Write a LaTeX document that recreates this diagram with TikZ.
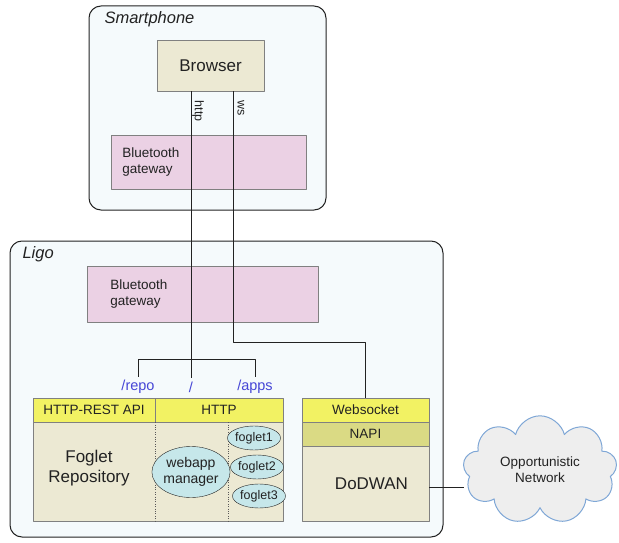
\documentclass[tikz,border=0pt]{standalone}
\usepackage{fontspec}
\setmainfont{Liberation Sans}
\usetikzlibrary{shapes.geometric,shapes.symbols}
\definecolor{outerbg}{HTML}{F5FAFC}
\definecolor{beige}{HTML}{ECE9D3}
\definecolor{btpink}{HTML}{EBD1E4}
\definecolor{hdryellow}{HTML}{F2F263}
\definecolor{napiolive}{HTML}{DADA84}
\definecolor{fogcyan}{HTML}{C6E7EA}
\definecolor{pathblue}{HTML}{4646D6}
\definecolor{cloudline}{HTML}{7FA7D6}
\definecolor{cloudfill}{HTML}{EEEEEE}
\definecolor{ink}{HTML}{222222}
\tikzset{
  outer/.style={draw=ink,fill=outerbg,rounded corners=12pt,line width=1pt},
  plain/.style={draw=gray,minimum width=#1,inner sep=0pt},
  btbox/.style={draw=gray,fill=btpink,inner sep=0pt},
  hdr/.style={draw=gray,fill=hdryellow,minimum height=24pt,inner sep=0pt},
  foglet/.style={ellipse,draw=ink,fill=fogcyan,minimum width=44pt,minimum height=24pt,inner sep=0pt,font=\fontsize{12.5}{14}\selectfont},
  path label/.style={text=pathblue,font=\fontsize{14.5}{16}\selectfont},
  big/.style={font=\fontsize{17}{19.5}\selectfont,align=center}
}
\begin{document}
\begin{tikzpicture}[x=1pt,y=-1pt,line join=round,text=ink,font=\fontsize{13.5}{16}\selectfont]
\useasboundingbox (0,0) rectangle (619,543);
% smartphone side
\node[outer,minimum width=237pt,minimum height=204pt] (phone) at (207.5,108) {};
\node[anchor=west,font=\fontsize{16.5}{19}\selectfont\itshape] (phonelbl) at (101,19) {Smartphone};
\node[plain=107pt,fill=beige,minimum height=51pt,font=\fontsize{17}{19}\selectfont] (browser) at (210.5,65.5) {Browser};
\node[btbox,minimum width=195pt,minimum height=54pt] (btphone) at (208.5,162) {};
\node[anchor=west,align=left] (btphonetxt) at ([xshift=8pt]btphone.west) {Bluetooth\\gateway};
% ligo side
\node[outer,minimum width=433pt,minimum height=296pt] (ligo) at (226.5,389) {};
\node[anchor=west,font=\fontsize{16.5}{19}\selectfont\itshape] (ligolbl) at (19,254) {Ligo};
\node[btbox,minimum width=231pt,minimum height=56pt] (btligo) at (202.5,294) {};
\node[anchor=west,align=left] (btligotxt) at ([xshift=20pt]btligo.west) {Bluetooth\\gateway};
% foglet server
\node[plain=250pt,fill=beige,minimum height=99pt] (fogbody) at (158,471.5) {};
\node[hdr,minimum width=122pt] (hdrrest) at (94,410) {HTTP-REST API};
\node[hdr,minimum width=128pt] (hdrhttp) at (219,410) {HTTP};
\draw[dotted,gray!70!black] (hdrhttp.south west) -- (hdrhttp.south west |- fogbody.south);
\draw[dotted,gray!70!black] ([xshift=73pt]hdrhttp.south west) -- ([xshift=73pt]hdrhttp.south west |- fogbody.south);
\node[big] (repotxt) at (89,468) {Foglet\\Repository};
\node[ellipse,draw=ink,fill=fogcyan,minimum width=65pt,minimum height=51pt,inner sep=0pt,align=center,font=\fontsize{14}{16}\selectfont] (manager) at (191,472) {webapp\\manager};
\foreach \i/\x/\y in {1/254/438,2/257/467,3/259/496}
  \node[foglet] (foglet\i) at (\x,\y) {foglet\i};
% dodwan
\node[plain=127pt,fill=beige,minimum height=75pt,font=\fontsize{17}{19}\selectfont] (dodwan) at (365.5,483.5) {\hspace{12pt}DoDWAN};
\node[hdr,minimum width=127pt] (ws) at (365.5,410) {Websocket};
\node[plain=127pt,fill=napiolive,minimum height=24pt] (napi) at (365.5,434) {NAPI};
% paths
\node[path label] (repo) at (138,387) {/repo};
\node[path label] (root) at (191,387) {/};
\node[path label] (apps) at (255,387) {/apps};
\draw[ink,line width=.9pt] (repo.north) -- ([yshift=17pt]repo.north) -| (apps.north);
\draw[ink,line width=.9pt] (root.north |- browser.south) -- (root.north);
\draw[ink,line width=.9pt] ([xshift=22.5pt]browser.south) -- ++(0,251) -| (ws.north);
\node[rotate=-90,font=\fontsize{12.5}{14}\selectfont] (httplbl) at (198,111) {http};
\node[rotate=-90,font=\fontsize{12.5}{14}\selectfont] (wslbl) at (241,108) {ws};
% opportunistic network
\node[cloud,cloud puffs=9,aspect=1.5,draw=cloudline,fill=cloudfill,line width=1pt,minimum width=154pt,minimum height=102pt,align=center] (opnet) at (540,470) {Opportunistic\\Network};
\draw[ink,line width=.9pt] ([yshift=-4pt]dodwan.east) -- ([yshift=-4pt]dodwan.east -| opnet.west);
\end{tikzpicture}
\end{document}
